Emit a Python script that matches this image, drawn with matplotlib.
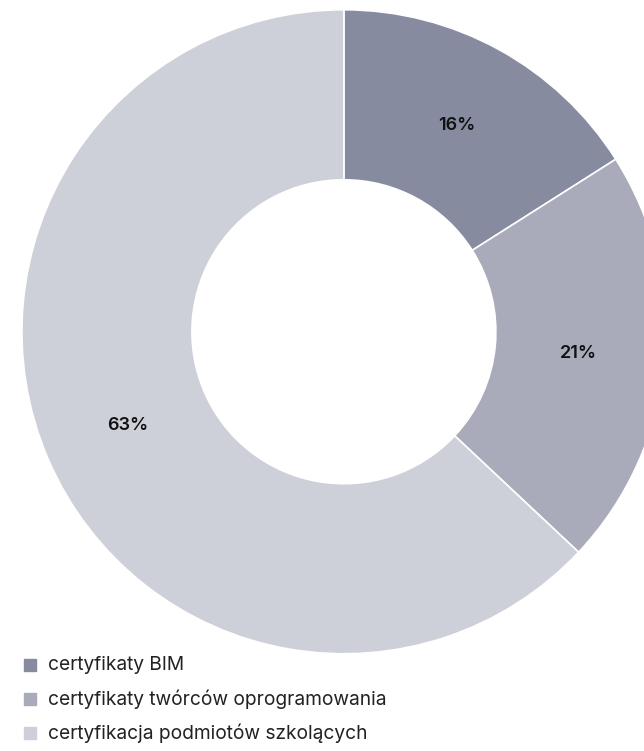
import matplotlib.pyplot as plt
from matplotlib.patches import Rectangle

labels = ["certyfikaty BIM", "certyfikaty twórców oprogramowania", "certyfikacja podmiotów szkolących"]
shares = [16, 21, 63]
colors = ["#878ba0", "#a9abbb", "#cdd0d8"]

plt.rcParams['font.family'] = ['Inter', 'DejaVu Sans']

fig = plt.figure(figsize=(6.44, 7.51), dpi=100)
ax = fig.add_axes([0.034, 0.1295, 1.0, 0.8575])

wedges, texts, autotexts = ax.pie(
    shares, colors=colors, startangle=90, counterclock=False,
    radius=1.0, autopct="%d%%", pctdistance=0.73,
    wedgeprops=dict(width=0.528, edgecolor="white", linewidth=1.2),
    textprops=dict(fontsize=13, fontweight="semibold", color="#111111"),
)
for w in wedges:
    w.set_clip_on(False)
ax.set_xlim(-1, 1)
ax.set_ylim(-1, 1)
ax.set_aspect("equal")
ax.axis("off")

# legend drawn below the ring
y0 = 1 - 665 / 751
step = 34 / 751
for i, (lab, col) in enumerate(zip(labels, colors)):
    y = y0 - i * step
    fig.patches.append(Rectangle((24 / 644, y - 6 / 751), 12 / 644, 12 / 751,
                                 transform=fig.transFigure, color=col))
    fig.text(48 / 644, y, lab, fontsize=13.8, va="center", ha="left", color="#222222")

fig.savefig("out.png", dpi=100)
